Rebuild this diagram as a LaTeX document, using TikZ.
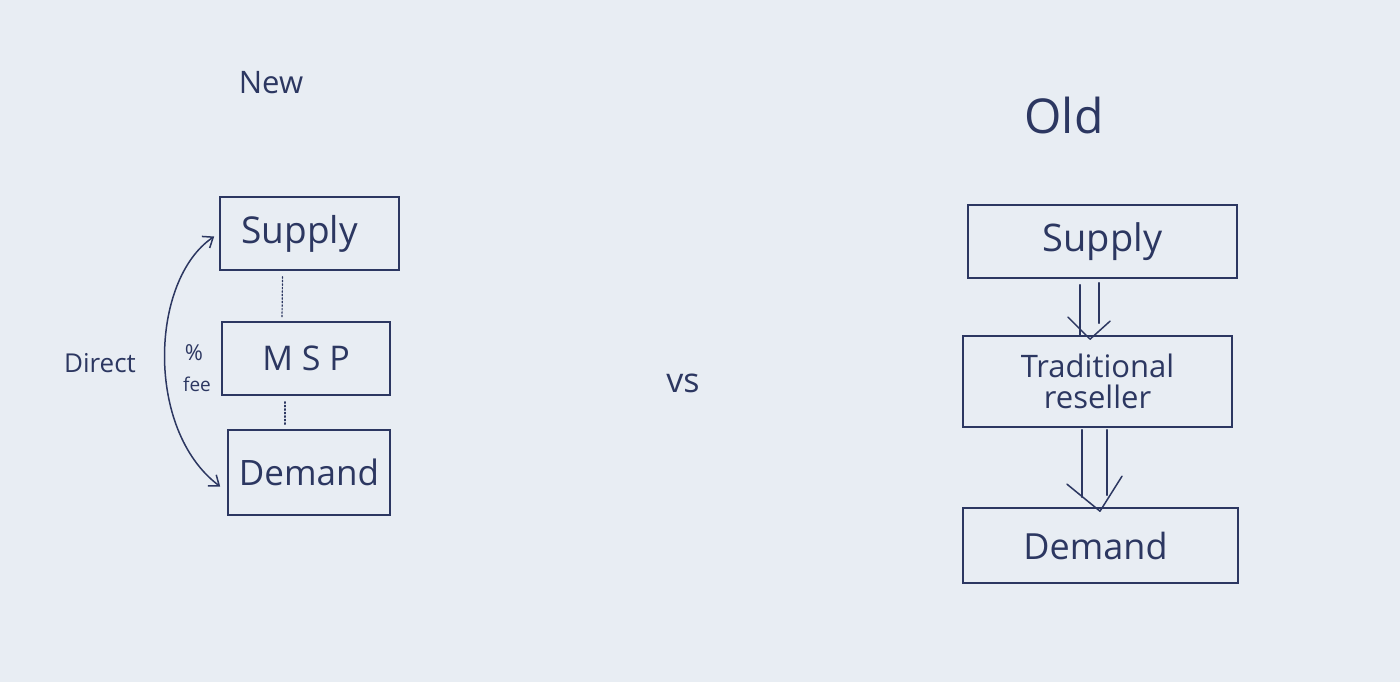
\documentclass[tikz,border=0pt]{standalone}
\usepackage{fontspec}
\setmainfont{Open Sans}
\usetikzlibrary{arrows.meta,calc}
\definecolor{paper}{HTML}{E8EDF3}
\definecolor{ink}{HTML}{2C3761}
\tikzset{
  box/.style={draw=ink, line width=1.6pt, inner sep=0pt, text=ink},
  lbl/.style={text=ink, inner sep=0pt},
  pen/.style={draw=ink, line width=1.5pt, line cap=round, line join=round},
}
\newcommand{\fs}[1]{\fontsize{#1}{#1}\selectfont}
\begin{document}
\begin{tikzpicture}[x=1pt,y=-1pt]
\fill[paper] (0,0) rectangle (1400,682);
\useasboundingbox (0,0) rectangle (1400,682);

% titles
\node[lbl] (new) at (271,83) {\fs{31}New};
\node[lbl] (old) at (1064,116) {\fs{48}Old};
\node[lbl] (vs) at (683,383) {\fs{34}vs};

% left diagram
\node[box, minimum width=179pt, minimum height=73pt] (ls) at (309.5,233.5) {\fs{37}Supply\hspace*{20pt}};
\node[box, minimum width=168pt, minimum height=73pt] (lm) at (306,358.5) {\fs{34}M S P};
\node[box, minimum width=162pt, minimum height=85pt] (ld) at (309,472.5) {\fs{35}Demand};

\draw[pen, dotted, line width=1.2pt] ($(ls.south)+(-27,6)$) -- ($(lm.north)+(-24,-3)$);
\draw[pen, dotted, line width=1.2pt] ($(lm.south)+(-21,6)$) -- ($(ld.north)+(-24,-3)$);

\coordinate (dtop) at ($(ls.west)+(-5,3)$);
\coordinate (dbot) at ($(ld.west)+(-7,14)$);
\draw[pen, {Straight Barb[length=9pt,width=14pt]}-{Straight Barb[length=9pt,width=14pt]}]
  (dtop) .. controls (150,280) and (145,430) .. (dbot);

\node[lbl] (direct) at (100,363) {\fs{26}Direct};
\node[lbl] (pct) at (194,353) {\fs{22}\%};
\node[lbl] (fee) at (197,384) {\fs{19}fee};

% right diagram
\node[box, minimum width=269pt, minimum height=73pt] (rs) at (1102.5,241.5) {\fs{38}Supply};
\node[box, minimum width=269pt, minimum height=91pt, align=center,
      font={\fontsize{31}{31}\selectfont}] (rr) at (1097.5,381.5) {Traditional\\reseller};
\node[box, minimum width=275pt, minimum height=75pt] (rd) at (1100.5,545.5) {\fs{36}Demand\hspace*{10pt}};

% double arrow supply -> reseller
\draw[pen] ($(rs.south)+(-22.5,6)$) -- ($(rr.north)+(-17.5,0)$);
\draw[pen] ($(rs.south)+(-3.5,4)$) -- ($(rr.north)+(1.5,-12)$);
\draw[pen] ($(rr.north)+(-29.5,-18)$) -- ($(rr.north)+(-7.5,4)$) -- ($(rr.north)+(12.5,-14)$);

% double arrow reseller -> demand
\draw[pen] ($(rr.south)+(-15.5,2)$) -- ($(rd.north)+(-18.5,-10)$);
\draw[pen] ($(rr.south)+(9.5,2)$) -- ($(rd.north)+(6.5,-12)$);
\draw[pen] ($(rd.north)+(-33.5,-23)$) -- ($(rd.north)+(-0.5,4)$) -- ($(rd.north)+(21.5,-31)$);
\end{tikzpicture}
\end{document}
